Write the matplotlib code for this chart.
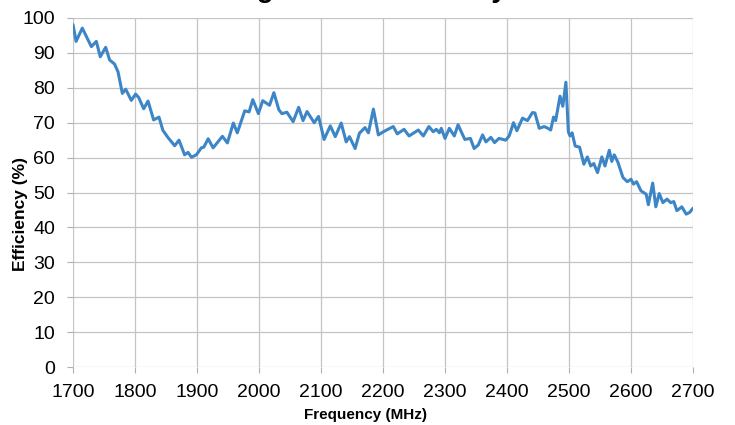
import matplotlib
matplotlib.use("Agg")
import matplotlib.pyplot as plt

freq_mhz = [1700, 1705, 1715, 1729.6, 1737.6, 1744, 1752.7, 1759, 1767, 1772.6,
            1779.6, 1785, 1794, 1801, 1806, 1814, 1821, 1830, 1838.7, 1845,
            1853, 1864, 1871, 1880, 1885.5, 1891, 1899, 1907, 1911, 1918,
            1926, 1941, 1949, 1958.6, 1965, 1977, 1984, 1990, 1999, 2006,
            2017, 2024, 2032, 2037, 2045, 2055, 2064, 2071, 2077.5, 2089,
            2096, 2105, 2115, 2123, 2132.6, 2140.6, 2146, 2155, 2162, 2171,
            2176.5, 2184.5, 2192.5, 2200.5, 2216.6, 2223, 2234, 2242, 2257, 2265,
            2274, 2281, 2286, 2291, 2294, 2300, 2307, 2315, 2321, 2332,
            2341, 2347, 2353.6, 2360.6, 2366, 2374, 2380, 2387, 2398, 2403.5,
            2410.5, 2416, 2425, 2433, 2441, 2445, 2452, 2460, 2466, 2470.5,
            2475, 2478.5, 2485.5, 2490, 2495, 2499, 2501.6, 2505, 2510, 2517,
            2524, 2529.6, 2535, 2540, 2546, 2553, 2558, 2565, 2569, 2573,
            2579, 2587, 2594, 2600, 2604, 2609, 2616, 2624.5, 2628, 2635,
            2640, 2645.5, 2651.5, 2658, 2664, 2669, 2674, 2682, 2689, 2694.6,
            2700]
efficiency_pct = [98.1, 93.3, 97.1, 91.8, 93.3, 88.9, 91.6, 88.0, 86.8, 84.6,
                  78.4, 79.6, 76.4, 78.2, 77.2, 74.0, 76.2, 70.8, 71.6, 67.8,
                  65.8, 63.4, 65.0, 60.8, 61.5, 60.1, 60.8, 62.8, 63.0, 65.4,
                  62.8, 66.1, 64.2, 69.9, 67.1, 73.4, 73.1, 76.6, 72.6, 76.3,
                  75.0, 78.6, 73.7, 72.6, 73.0, 70.3, 74.4, 70.6, 73.2, 70.0,
                  71.8, 65.2, 69.1, 66.0, 69.9, 64.5, 66.0, 62.6, 67.0, 68.6,
                  67.1, 73.9, 66.5, 67.4, 68.9, 66.8, 68.1, 66.2, 67.9, 66.2,
                  68.9, 67.4, 68.1, 67.1, 68.4, 65.5, 68.4, 66.2, 69.4, 65.2,
                  65.5, 62.6, 63.6, 66.5, 64.5, 65.8, 64.3, 65.5, 65.0, 66.2,
                  70.0, 67.7, 71.3, 70.6, 72.9, 72.8, 68.4, 68.9, 68.4, 67.9,
                  71.6, 70.6, 77.6, 74.7, 81.6, 67.4, 66.2, 67.1, 63.3, 63.0,
                  58.1, 60.2, 57.6, 58.3, 55.7, 60.2, 57.6, 62.1, 58.9, 60.8,
                  58.6, 54.3, 53.1, 53.8, 52.4, 53.1, 50.5, 49.5, 46.5, 52.7,
                  45.9, 49.7, 47.1, 48.1, 47.1, 47.4, 44.8, 45.9, 43.8, 44.3,
                  45.5]

x_ticks = [1700, 1800, 1900, 2000, 2100, 2200, 2300, 2400, 2500, 2600, 2700]
y_ticks = [0, 10, 20, 30, 40, 50, 60, 70, 80, 90, 100]

title_text = "High Band Efficiency"
x_label = "Frequency (MHz)"
y_label = "Efficiency (%)"

plt.rcParams['font.family'] = ['Liberation Sans', 'DejaVu Sans']

fig = plt.figure(figsize=(7.35, 4.25), dpi=100)
ax = fig.add_axes([73/735, 1-367/425, 620/735, 349/425])

ax.plot(freq_mhz, efficiency_pct, color='#3c86c8', lw=2.2,
        solid_joinstyle='round', solid_capstyle='round', zorder=3)

ax.set_xlim(1700, 2700)
ax.set_ylim(0, 100)
ax.set_xticks(x_ticks)
ax.set_yticks(y_ticks)
ax.grid(True, color='#c4c4c4', lw=0.9)
ax.set_axisbelow(True)
for s in ax.spines.values():
    s.set_visible(False)
ax.tick_params(axis='both', colors='#b0b0b0', labelcolor='black',
               labelsize=14, length=4, width=0.8)
ax.tick_params(axis='y', pad=9)
ax.tick_params(axis='x', pad=8)

fig.text(368/735, 1 + 3/425, title_text, ha='center', va='baseline',
         fontsize=20, fontweight='bold')
fig.text(366/735, 1 - 415/425, x_label, ha='center', va='center',
         fontsize=11, fontweight='bold')
fig.text(21/735, 1 - 214/425, y_label, ha='center', va='center',
         rotation=90, fontsize=12.5, fontweight='bold')

fig.savefig('out.png', dpi=100)
